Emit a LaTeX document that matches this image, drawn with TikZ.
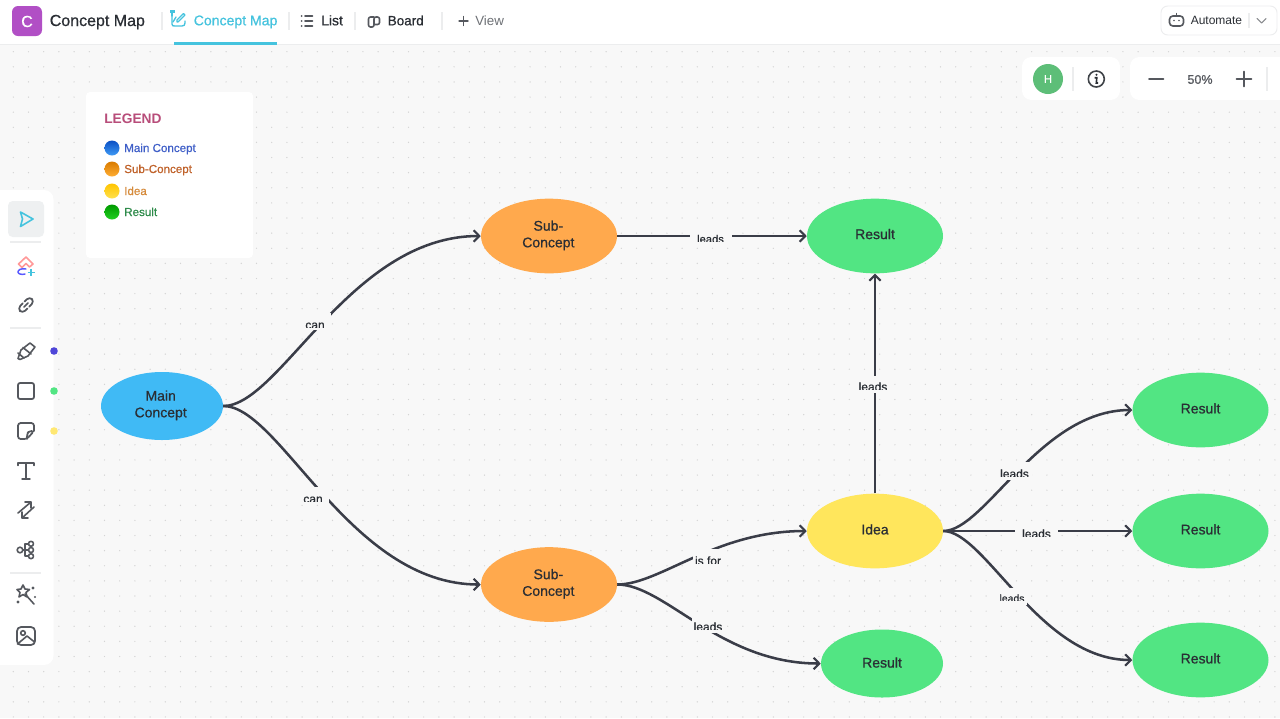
\documentclass[tikz,border=0pt]{standalone}
\usepackage{fontspec}
\setmainfont{Liberation Sans}
\newfontfamily\medf[FakeBold=0.7]{Liberation Sans}
\usetikzlibrary{shapes.geometric,arrows.meta,shadings}
\definecolor{bgc}{HTML}{F8F8F8}
\definecolor{inkc}{HTML}{3A3D48}
\definecolor{txtc}{HTML}{2A2E34}
\definecolor{iconc}{HTML}{55585E}
\definecolor{cyanc}{HTML}{45C3DE}
\definecolor{sepc}{HTML}{ECEDEE}
\definecolor{mainc}{HTML}{40BAF5}
\definecolor{subc}{HTML}{FFA94D}
\definecolor{resc}{HTML}{52E583}
\definecolor{ideac}{HTML}{FFE65C}
\newcommand\fs[1]{\fontsize{#1}{#1}\selectfont}
\tikzset{
  px/.style={x=0.75pt,y=-0.75pt},
  concept/.style={ellipse,inner sep=0pt,text=txtc,align=center,font=\medf\fs{10.5}},
  mainnode/.style={concept,fill=mainc,minimum width=91.5pt,minimum height=51pt},
  subnode/.style={concept,fill=subc,minimum width=102pt,minimum height=56pt},
  ideanode/.style={concept,fill=ideac,minimum width=102pt,minimum height=56pt},
  resnode/.style={concept,fill=resc,minimum width=102pt,minimum height=56pt},
  resmall/.style={concept,fill=resc,minimum width=91.5pt,minimum height=51pt},
  link/.style={draw=inkc,line width=1.9pt,-{Straight Barb[length=4.2pt,width=8.5pt,line width=1.6pt]}},
  mask/.style={fill=bgc,inner sep=0pt},
  lbl/.style={inner sep=0pt,anchor=base,text=txtc},
  tab/.style={anchor=base west,inner sep=0pt,text=txtc,font=\medf\fs{10}},
  sep/.style={draw=sepc,line width=0.8pt},
  ico/.style={draw=iconc,line width=1.2pt,line cap=round,line join=round},
  legendtxt/.style={anchor=base west,inner sep=0pt,font=\medf\fs{8.7}},
  panel/.style={fill=white,rounded corners=7pt}
}
% name, cx, cy, w, h, text, baseline y, clip y, size
\newcommand\edgelabel[9]{%
  \node[mask,minimum width=#4*0.75pt,minimum height=#5*0.75pt] (#1) at (#2,#3) {};
  \begin{scope}
    \clip (#2-#4/2,#3-#5/2) rectangle (#2+#4/2,#8);
    \node[lbl,font=\medf\fs{#9}] (#1t) at (#2,#7) {#6};
  \end{scope}}
\newcommand\ball[4]{%
  \shade[top color=#3,bottom color=#4] (#1,#2) circle[radius=7.5];}
\definecolor{bA}{HTML}{0B4FC4}\definecolor{bB}{HTML}{3F9BF5}
\definecolor{oA}{HTML}{D97B00}\definecolor{oB}{HTML}{FFAD33}
\definecolor{yA}{HTML}{FFC400}\definecolor{yB}{HTML}{FFE14D}
\definecolor{gA}{HTML}{009A00}\definecolor{gB}{HTML}{22D022}
\begin{document}
\begin{tikzpicture}[px]
\useasboundingbox (0,0) rectangle (1280,718);
\fill[bgc] (0,0) rectangle (1280,718);
% dotted grid
\foreach \i in {0,...,84}{\foreach \j in {0,...,44}{
  \fill[black!17] ({13.3+15.2*\i},{51.7+15.12*\j}) circle[radius=0.7];}}
% top bar
\fill[white] (0,0) rectangle (1280,44);
\draw[sepc,line width=0.6pt] (0,44.5) -- (1280,44.5);
% app icon
\definecolor{appc}{HTML}{B14FC5}
\fill[appc,rounded corners=4.5pt] (12,6) rectangle (42,36);
\node[inner sep=0pt,text=white,font=\medf\fs{12}] (appC) at (27,21.5) {C};
\node[tab,font=\medf\fs{12}] (title) at (49.5,26) {Concept Map};
\foreach \x in {162,289,355,442}{\draw[sep] (\x,12) -- (\x,30);}
% concept map tab icon
\begin{scope}[draw=cyanc,line width=1pt,line cap=round,line join=round]
  \draw (172,16) -- (172,24) .. controls (172,26) and (173,26) .. (175,26) -- (182,26) .. controls (184,26) and (185,25) .. (185,23) -- (185,21);
  \draw (178,22) -- (185,15) -- (183.5,13.5) -- (177,20) -- (177,22) -- (178,22);
  \draw (176,17) -- (173,22);
  \fill[cyanc] (170,9.5) rectangle (175,13);
  \draw (172,13) -- (172,16);
\end{scope}
\node[tab,text=cyanc,font=\medf\fs{10.55}] (tabcm) at (193.5,25.3) {Concept Map};
\fill[cyanc] (174,42) rectangle (277,45);
% list
\foreach \y in {16,21,26}{
  \fill[iconc] (301.5,\y) circle[radius=1];
  \draw[ico] (305,\y) -- (312.5,\y);}
\node[tab,font=\medf\fs{10.4}] (tablist) at (321,25.3) {List};
% board
\draw[ico,rounded corners=1.5pt] (374,17) -- (368.5,17) -- (368.5,27) -- (374,27) -- (374,17) -- (379.5,17) -- (379.5,24.5) -- (374,24.5);
\node[tab,font=\medf\fs{10.1}] (tabboard) at (387.5,25.3) {Board};
% view
\draw[ico,line width=1pt] (463.5,16.5) -- (463.5,25.5) (459,21) -- (468,21);
\node[tab,text=iconc!85,font=\fs{10}] (tabview) at (475,25.3) {View};
% automate
\draw[sepc,line width=0.7pt,rounded corners=5pt,fill=white] (1161,6) rectangle (1277,35);
\draw[ico,fill=white,rounded corners=2.5pt] (1169.5,16) rectangle (1183.5,26);
\fill[iconc] (1174,20.5) circle[radius=0.9] (1179,20.5) circle[radius=0.9];
\draw[ico,line width=0.8pt] (1176.5,16) -- (1176.5,13.5);
\node[tab,font=\fs{9}] (autot) at (1190.5,24.3) {Automate};
\draw[sep] (1249,13) -- (1249,28);
\draw[ico,draw=iconc!70,line width=0.8pt] (1257,18.5) -- (1261.5,23) -- (1266,18.5);
% zoom panels
\fill[panel] (1022,57) rectangle (1120,100);
\fill[white,rounded corners=7pt] (1130,57) rectangle (1300,100);
\definecolor{hgreen}{HTML}{5DBE78}
\fill[hgreen] (1048,79) circle[radius=15];
\node[inner sep=0pt,text=white,font=\medf\fs{8.5}] (hname) at (1048,79) {H};
\draw[sep] (1073,67) -- (1073,91);
\draw[draw=txtc!90,line width=1.2pt] (1096.3,79) circle[radius=8];
\fill[txtc] (1096.5,74.7) circle[radius=1.1];
\draw[txtc,line width=1.2pt] (1094.6,77.7) -- (1096.8,77.7) -- (1096.3,83) -- (1098,83);
\draw[ico,line width=1.2pt] (1149,79) -- (1163.5,79);
\node[inner sep=0pt,text=iconc,font=\medf\fs{9.4}] (zoomv) at (1200,79.5) {50\%};
\draw[ico,line width=1.2pt] (1236.5,79) -- (1251.5,79) (1244,71.5) -- (1244,86.5);
\draw[sep] (1267,67) -- (1267,91);
% legend
\fill[white,rounded corners=3pt] (86,92) rectangle (253,258);
\definecolor{legc}{HTML}{B84D7A}
\node[anchor=base west,inner sep=0pt,text=legc,font=\bfseries\fs{10.3}] (legend) at (104,123) {LEGEND};
\ball{112}{148}{bA}{bB}
\ball{112}{169}{oA}{oB}
\ball{112}{191}{yA}{yB}
\ball{112}{212}{gA}{gB}
\node[legendtxt,text={rgb,255:red,63;green,95;blue,200}] (l1) at (124,152) {Main Concept};
\node[legendtxt,text={rgb,255:red,192;green,98;blue,42}] (l2) at (124,173) {Sub-Concept};
\node[legendtxt,text={rgb,255:red,214;green,138;blue,58}] (l3) at (124,195) {Idea};
\node[legendtxt,text={rgb,255:red,46;green,139;blue,74}] (l4) at (124,216) {Result};
% toolbar
\fill[white,rounded corners=7pt] (-20,190) rectangle (53.5,665);
\definecolor{selc}{HTML}{EEF0F1}
\fill[selc,rounded corners=3.5pt] (8,201) rectangle (44,237);
\draw[draw=cyanc,line width=1.2pt,line join=round] (20.5,212) -- (33,219) -- (20.5,226.5) -- (22.5,219) -- cycle;
\foreach \y in {242,328,573}{\draw[sep] (10,\y) -- (41,\y);}
% ai icon
\draw[draw=pink!80!red,line width=1.2pt,line join=round] (18.5,264) -- (26,257) -- (33,264) -- (29.5,267) -- (26,263.5) -- (22,267.5) -- cycle;
\draw[draw=blue!65!white,line width=1.1pt,line cap=round] (26,269) .. controls (21,268) and (18,270) .. (18,272) .. controls (18,274) and (22,275) .. (25,274);
\draw[draw=cyanc,line width=1.2pt] (31,269) -- (31,276) (27.5,272.5) -- (34.5,272.5);
% link
\begin{scope}[shift={(26,305)},rotate=45]
  \draw[ico,line width=1.3pt,rounded corners=3pt] (-1,-3.5) -- (-8.5,-3.5) -- (-8.5,3.5) -- (-1.5,3.5);
  \draw[ico,line width=1.3pt,rounded corners=3pt] (1,3.5) -- (8.5,3.5) -- (8.5,-3.5) -- (1.5,-3.5);
  \draw[ico,line width=1.3pt] (-3,0) -- (3,0);
\end{scope}
% pen
\draw[ico,line join=round] (18,358.5) -- (21,350) -- (30,343) -- (35,347) -- (28,356) -- (20,359.5) -- cycle;
\draw[ico] (23,347.5) -- (31,354);
\draw[ico] (18,353) -- (24,358);
% square
\draw[ico,line width=1.3pt,rounded corners=1.5pt] (18,383) rectangle (34,399);
% sticky
\draw[ico,line width=1.3pt,rounded corners=2pt] (34,431) -- (34,423) -- (18,423) -- (18,439) -- (27,439) -- (34,431) -- (29,431) -- (27,434) -- (27,439);
% T
\draw[ico,line width=1.1pt] (18,465.5) -- (18,463) -- (34,463) -- (34,465.5) (26,463) -- (26,479) (22,479) -- (30,479);
% arrows
\draw[ico] (18,513) -- (31,502) (25,502) -- (31,502) -- (31,508);
\draw[ico] (34,507) -- (22,518) (22,512) -- (22,518) -- (28,518);
% tree
\draw[ico] (20,550) circle[radius=2.8];
\draw[ico] (31,543.8) circle[radius=2.5] (31,550) circle[radius=2.5] (31,556.2) circle[radius=2.5];
\draw[ico] (22.8,550) -- (28.5,550) (25,550) -- (25,543.8) -- (28.5,543.8) (25,550) -- (25,556.2) -- (28.5,556.2);
% wand
\draw[ico] (25,594) -- (34,604);
\draw[ico,line join=round] (23,585) -- (25,589) -- (29.5,589.5) -- (26,592.5) -- (27,597) -- (23,594.5) -- (19,597) -- (20,592.5) -- (17,589.5) -- (21,589) -- cycle;
\fill[iconc] (33,588) circle[radius=1.7] (35,597) circle[radius=1.2] (18,602) circle[radius=1.7];
% image
\draw[ico,line width=1.3pt,rounded corners=3pt] (17,627) rectangle (35,645);
\draw[ico] (23,633) circle[radius=2.3];
\draw[ico] (17.5,644) -- (27,636) -- (34.5,642);
% swatches
\definecolor{sw1}{HTML}{4F46D8}
\definecolor{sw3}{HTML}{FFE873}
\fill[sw1] (54,351) circle[radius=3.8];
\fill[resc] (54,391) circle[radius=3.8];
\fill[sw3] (54,431) circle[radius=3.8];
% nodes
\node[mainnode] (mc) at (162,406) {\raisebox{1.5pt}{\hspace{-2pt}\begin{tabular}{@{}c@{}}Main\\[2pt]Concept\end{tabular}}};
\node[subnode] (s1) at (549,236) {\raisebox{1.5pt}{\hspace{-1pt}\begin{tabular}{@{}c@{}}Sub-\\[2pt]Concept\end{tabular}}};
\node[subnode] (s2) at (549,584.5) {\raisebox{1.5pt}{\hspace{-1pt}\begin{tabular}{@{}c@{}}Sub-\\[2pt]Concept\end{tabular}}};
\node[resnode] (r1) at (875,236) {\raisebox{3pt}{Result}};
\node[ideanode] (idea) at (875,531) {\raisebox{2.5pt}{Idea}};
\node[resmall] (r2) at (882,663.5) {\raisebox{1.5pt}{Result}};
\node[resnode] (r3) at (1200.5,410) {\raisebox{2.5pt}{Result}};
\node[resnode] (r4) at (1200.5,531) {\raisebox{2.5pt}{Result}};
\node[resnode] (r5) at (1200.5,660) {\raisebox{2.5pt}{Result}};
% connectors
\draw[link] (mc.east) .. controls (280,406) and (350,236) .. (s1.west);
\draw[link] (mc.east) .. controls (280,406) and (350,584.5) .. (s2.west);
\draw[link] (s1.east) -- (r1.west);
\draw[link] (s2.east) .. controls (660,584.5) and (715,531) .. (idea.west);
\draw[link] (s2.east) .. controls (665,584.5) and (720,663.5) .. (r2.west);
\draw[link] (idea.north) -- (r1.south);
\draw[link] (idea.east) .. controls (985,531) and (1040,410) .. (r3.west);
\draw[link] (idea.east) -- (r4.west);
\draw[link] (idea.east) .. controls (985,531) and (1040,660) .. (r5.west);
% labels
\edgelabel{lb1}{315}{321.5}{32}{17}{can}{329}{327}{9}
\edgelabel{lb2}{313}{495.5}{32}{17}{can}{503}{501}{9}
\edgelabel{lb3}{710.5}{238}{42}{14}{leads}{243}{241.5}{8.4}
\edgelabel{lb4}{873}{384.5}{38}{17}{leads}{391}{389.5}{9}
\edgelabel{lb5}{708}{557.5}{31}{18}{is for}{565}{563.5}{9}
\edgelabel{lb6}{708}{624}{32}{18}{leads}{631}{629.5}{9}
\edgelabel{lb7}{1014.5}{471}{34}{18}{leads}{478}{476.5}{9}
\edgelabel{lb8}{1036.5}{531}{43}{15}{leads}{538}{536.5}{9}
\edgelabel{lb9}{1012}{596}{30}{17}{leads}{602}{600.5}{7.8}
\end{tikzpicture}
\end{document}
